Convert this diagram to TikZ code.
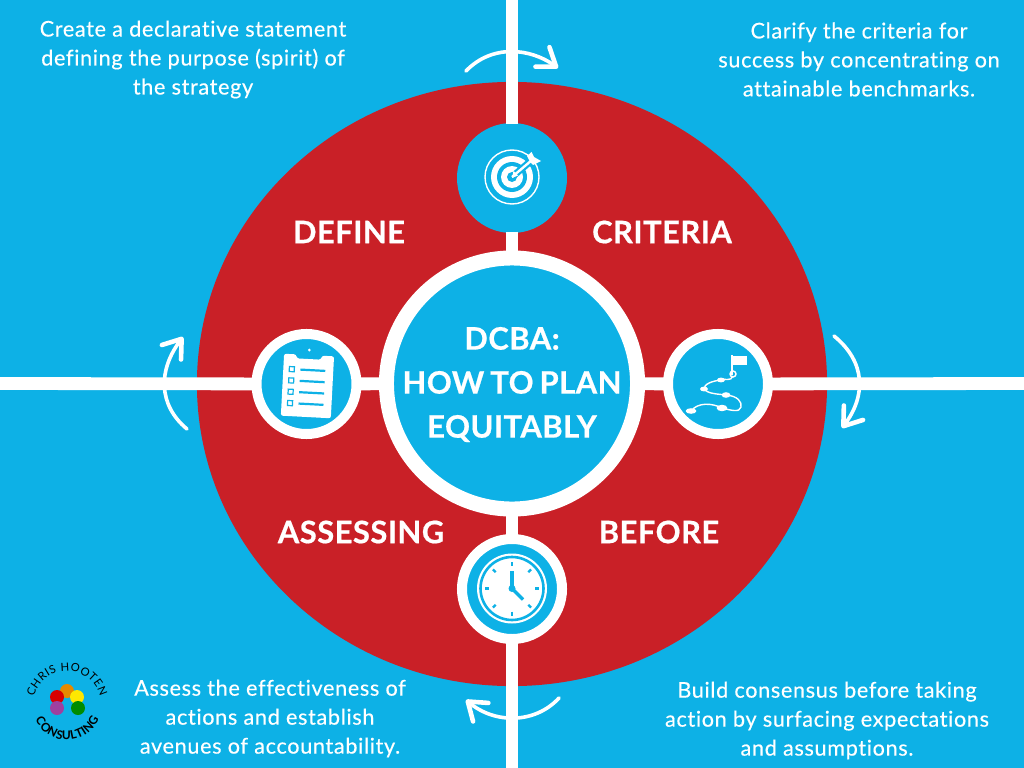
\documentclass[tikz,border=0pt]{standalone}
\usepackage{fontspec}
\setmainfont[LetterSpace=3,FakeBold=0.35,Ligatures={NoCommon}]{Lato}
\newfontfamily\headfont[LetterSpace=1.5,WordSpace=0.75,BoldFeatures={FakeBold=0.6}]{Lato}
\newfontfamily\logofont{Lato}
\usetikzlibrary{arrows.meta,decorations.text,shapes.geometric}
\definecolor{skyblue}{HTML}{0DB1E6}
\definecolor{discred}{HTML}{C92027}

\begin{document}
\begin{tikzpicture}[x=0.025cm,y=-0.025cm,
 spot/.style={circle,inner sep=0pt,minimum size=2.5cm,fill=skyblue,draw=white,line width=0.25cm},
 spoke/.style={white,line width=0.32cm,shorten >=-1pt,shorten <=-1pt},
 sweep/.style={white,line width=0.09cm,line cap=round,-{Straight Barb[length=4.2mm,width=6mm,round,line width=0.115cm]}},
 caption/.style={white,align=center,font=\fontsize{15.4}{20.6}\selectfont},
 word/.style={white,font=\headfont\fontsize{22}{31.3}\selectfont\bfseries,align=center},
 thin/.style={white,line width=0.035cm},
 bar/.style={skyblue,line width=0.055cm},
 pin/.style={white,fill=white,ellipse,inner sep=0pt}]
\fill[skyblue] (0,0) rectangle (1024,768);
\useasboundingbox (0,0) rectangle (1024,768);
% disc and hub
\node[ellipse,fill=discred,inner sep=0pt,minimum width=15.75cm,minimum height=15.1cm] (disc) at (512,384) {};
\node[spot,minimum size=6.275cm,line width=0.375cm] (hub) at (512,383.5) {};
\node[word] at (512,384.5) {DCBA:\\HOW TO PLAN\\EQUITABLY};
% four spots
\node[spot,draw=none,outer sep=0pt,minimum size=2.75cm] (goal) at (512,178) {};
\node[spot] (plan) at (306.5,384) {};
\node[spot] (route) at (718,384) {};
\node[spot] (watch) at (512,589) {};
% spokes
\coordinate (north) at (512,0);
\coordinate (south) at (512,768);
\coordinate (west) at (0,383.5);
\coordinate (east) at (1024,383.5);
\draw[spoke] (north)--(goal); \draw[spoke] (goal)--(hub);
\draw[spoke] (hub)--(watch); \draw[spoke] (watch)--(south);
\draw[spoke] (west)--(plan); \draw[spoke] (plan)--(hub);
\draw[spoke] (hub)--(route); \draw[spoke] (route)--(east);
% labels
\node[word] (define) at (349,232) {DEFINE};
\node[word] (criteria) at (662,232) {CRITERIA};
\node[word] (assessing) at (361,532) {ASSESSING};
\node[word] (before) at (659,532) {BEFORE};
\node[caption] (tl) at (193,59.5) {Create a declarative statement\\defining the purpose (spirit) of\\the strategy};
\node[caption] (tr) at (859,59.5) {Clarify the criteria for\\success by concentrating on\\attainable benchmarks.};
\node[caption] (bl) at (270,718.5) {Assess the effectiveness of\\actions and establish\\avenues of accountability.};
\node[caption] (br) at (827,720.5) {Build consensus before taking\\action by surfacing expectations\\and assumptions.};
% cycle arrows
\coordinate (a1) at (466,71); \coordinate (a2) at (558,68);
\coordinate (b1) at (834,336); \coordinate (b2) at (842,428);
\coordinate (c1) at (559,698); \coordinate (c2) at (466,700);
\coordinate (d1) at (187,429); \coordinate (d2) at (183,337);
\draw[sweep] (a1) .. controls (492,44) and (530,48) .. (a2);
\draw[sweep] (b1) .. controls (866,362) and (866,396) .. (b2);
\draw[sweep] (c1) .. controls (535,724) and (495,724) .. (c2);
\draw[sweep] (d1) .. controls (158,405) and (158,370) .. (d2);
% target icon
\begin{scope}[shift={(512,177)}]
\draw[thin] (0,0) circle[radius=27];
\fill[white] (0,0) circle[radius=21];
\fill[skyblue] (0,0) circle[radius=15];
\fill[white] (0,0) circle[radius=11];
\fill[skyblue] (0,0) circle[radius=5];
\draw[skyblue,line width=0.17cm] (0,0)--(20,-17);
\draw[white,line width=0.06cm] (0,0)--(20,-17);
\fill[white] (0,1)--(1.5,-6)--(6,-1.5)--cycle;
\fill[white] (15,-21)--(19.5,-25)--(22,-20)--(29,-16)--(21,-12)--(18,-15)--cycle;
\end{scope}
% clipboard icon
\begin{scope}[shift={(307.5,385)},rotate=-3]
\fill[white,rounded corners=1.5pt] (-25,-30)--(-13,-30)--(-12,-26)--(12,-26)--(13,-30)--(25,-30)--(25,32)--(-25,32)--cycle;
\fill[white] (0,-35) circle[radius=1.5];
\foreach \row in {-15,-3.7,7.6,19}{
 \draw[skyblue,line width=0.03cm] (-19,\row-2.5) rectangle (-14,\row+2.5);
 \draw[bar] (-8,\row)--(17,\row);
}
\end{scope}
% route icon
\draw[white,line width=0.065cm] (732,355)--(732,375);
\fill[white] (733,356) rectangle (747,365);
\draw[thin] (733,374) circle[radius=3];
\draw[thin] (733,376) .. controls (731,382) and (724,378) .. (721,380)
 .. controls (712,381) and (704,384) .. (704,389)
 .. controls (708,394) and (718,394) .. (726,395)
 .. controls (738,396) and (742,402) .. (741,407)
 .. controls (740,413) and (730,410) .. (722,408)
 .. controls (712,403) and (698,402) .. (691,411);
\node[pin,minimum width=0.2cm,minimum height=0.12cm] (r1) at (721,380) {};
\node[pin,minimum width=0.2cm,minimum height=0.12cm] (r2) at (704,389) {};
\node[pin,minimum width=0.22cm,minimum height=0.14cm] (r3) at (726,395) {};
\node[pin,minimum width=0.27cm,minimum height=0.16cm] (r4) at (722,408) {};
\node[pin,minimum width=0.27cm,minimum height=0.14cm] (r5) at (691,411) {};
% clock icon
\begin{scope}[shift={(512,588.5)}]
\fill[white] (0,0) circle[radius=35];
\draw[skyblue,line width=0.065cm] (0,0) circle[radius=31.5];
\foreach \ang in {0,45,...,315}{
 \draw[skyblue,line width=0.06cm] (\ang:23)--(\ang:27);
}
\draw[skyblue,line width=0.085cm] (0,0)--(0,-18);
\draw[skyblue,line width=0.085cm] (0,0)--(11,11);
\fill[skyblue] (0,0) circle[radius=3.5];
\end{scope}
% logo
\fill[orange!80!yellow!90!black] (67,691) circle[radius=7];
\fill[yellow!90!orange] (77,697) circle[radius=7];
\fill[red!85!black] (57,697) circle[radius=7];
\fill[violet!75] (57,708) circle[radius=7];
\fill[green!55!black] (78,708) circle[radius=7];
\path[decorate,decoration={text along path,text align=fit to path,
 text={|\logofont\fontsize{8}{8}\selectfont|CHRIS HOOTEN}}]
 (67,705) ++(194:34) arc[start angle=194,end angle=346,radius=34];
\path[decorate,decoration={text along path,text align=fit to path,
 text={|\logofont\fontsize{8.5}{8.5}\selectfont\bfseries|CONSULTING}}]
 (67,705) ++(155:35) arc[start angle=155,end angle=24,radius=35];
\end{tikzpicture}
\end{document}
